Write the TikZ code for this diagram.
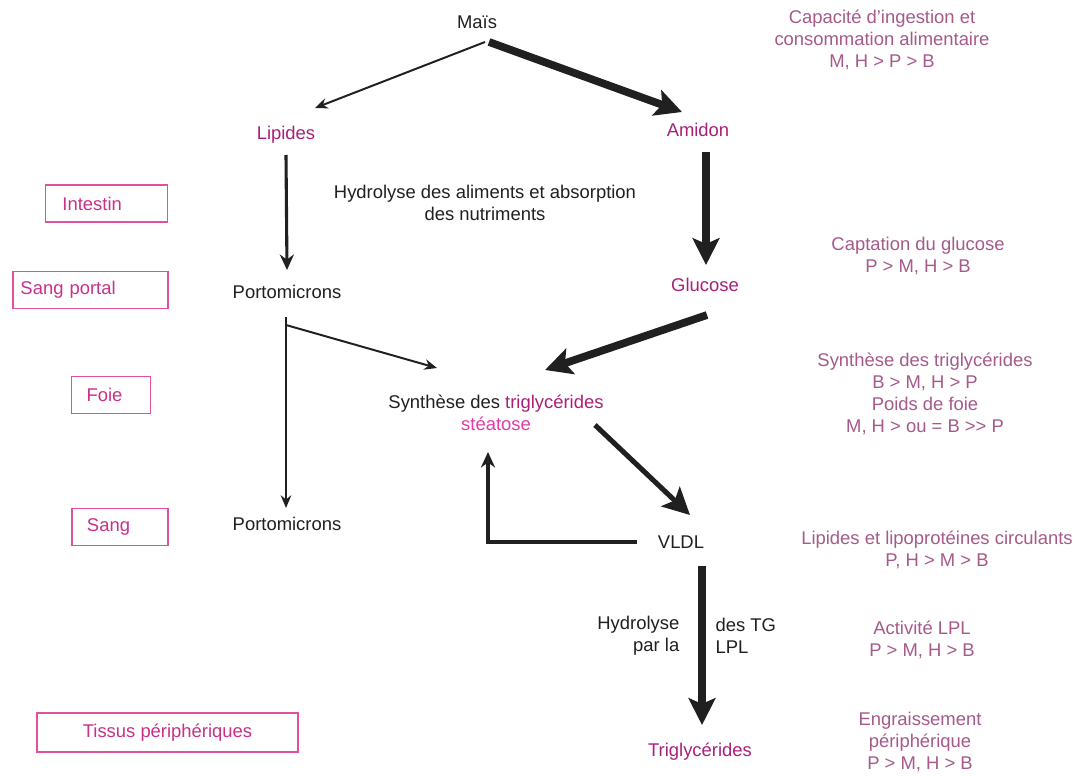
\documentclass[tikz,border=0pt]{standalone}
\usepackage{fontspec}
\setmainfont{Liberation Sans}
\usetikzlibrary{arrows.meta}

\definecolor{encre}{HTML}{202020}
\definecolor{rose}{HTML}{A8207A}
\definecolor{fuchsia}{HTML}{E23AA6}
\definecolor{mauve}{HTML}{A65A8A}
\definecolor{cadre}{HTML}{E0509E}
\definecolor{cadretxt}{HTML}{C8308A}

\tikzset{
  txt/.style={text=encre, inner sep=1pt},
  bio/.style={text=rose, inner sep=1pt},
  note/.style={text=mauve, align=center, inner sep=1pt},
  zone/.style={draw=cadre, line width=1.1pt, text=cadretxt, align=left, minimum height=0.92cm},
  fin/.style={draw=encre, line width=1.4pt, -{Stealth[length=9pt, width=7.5pt]}},
  moyen/.style={draw=encre, line width=2.2pt, -{Stealth[length=11pt, width=10pt]}},
  epais/.style={draw=encre, line width=5.5pt, -{Stealth[length=19pt, width=19pt, inset=4pt]}},
  retour/.style={draw=encre, line width=2.6pt, -{Stealth[length=11pt, width=10pt]}}
}

\begin{document}
\begin{tikzpicture}[x=0.025cm, y=-0.025cm, font=\fontsize{13.1}{15.5}\selectfont]
    \path[use as bounding box, fill=white] (0,0) rectangle (1080,776);
    % Compartiments
    \node[zone, text width=2.2cm, inner xsep=0.42cm] (intestin) at (106.5,203.5) {Intestin};
    \node[zone, text width=3.5cm, inner xsep=0.19cm] (portal) at (90.5,290) {Sang portal};
    \node[zone, text width=1.22cm, inner xsep=0.38cm] (foie) at (111,395) {Foie};
    \node[zone, text width=1.65cm, inner xsep=0.38cm] (sang) at (120,527) {Sang};
    \node[zone, align=center, minimum width=6.53cm, minimum height=0.98cm] (tissus) at (167.5,732.5) {Tissus périphériques};
    % Voies
    \node[txt] (mais) at (477,22) {Maïs};
    \node[bio] (lipides) at (286,135) {Lipides};
    \node[bio] (amidon) at (698,130) {Amidon};
    \node[txt, align=center] (hydro) at (485,203) {Hydrolyse des aliments et absorption\\des nutriments};
    \node[txt] (porto1) at (287,292) {Portomicrons};
    \node[bio] (glucose) at (705,285) {Glucose};
    \node[txt, align=center] (synth) at (496,413) {Synthèse des \textcolor{rose}{triglycérides}\\\textcolor{fuchsia}{stéatose}};
    \node[txt] (porto2) at (287,524) {Portomicrons};
    \node[txt] (vldl) at (681,542) {VLDL};
    \node[bio] (tg) at (700,752) {Triglycérides};
    \node[txt, align=right, anchor=east] (hydtg) at (681,636) {Hydrolyse\\par la};
    \node[txt, align=left, anchor=west] (lpl) at (714,636) {des TG\\LPL};
    % Fleches
    \draw[fin] ([shift={(8,20)}]mais.center) -- ([shift={(29,-27)}]lipides.center);
    \draw[epais] ([shift={(12,20)}]mais.center) -- ([shift={(-16,-18)}]amidon.center);
    \draw[moyen] ([shift={(0,20)}]lipides.center) -- ([shift={(0,-22)}]porto1.center);
    \draw[epais] ([shift={(8,22)}]amidon.center) -- ([shift={(1,-20)}]glucose.center);
    \draw[fin] ([shift={(-1,25)}]porto1.center) -- ([shift={(-1,-16)}]porto2.center);
    \coordinate (embr) at ([shift={(-1,33)}]porto1.center);
    \draw[fin] (embr) -- ([shift={(-59,-45)}]synth.center);
    \draw[epais] ([shift={(2,30)}]glucose.center) -- ([shift={(49,-43)}]synth.center);
    \draw[epais, line width=3.6pt] ([shift={(99,12)}]synth.center) -- ([shift={(9,-27)}]vldl.center);
    \draw[retour] ([shift={(-44,0)}]vldl.center) -| ([shift={(-8,39)}]synth.center);
    \draw[epais, line width=5pt] ([shift={(21,24)}]vldl.center) -- ([shift={(2,-27)}]tg.center);
    % Effets
    \node[note] (n1) at (882,40) {Capacité d'ingestion et\\consommation alimentaire\\M, H > P > B};
    \node[note] (n2) at (918,256) {Captation du glucose\\P > M, H > B};
    \node[note] (n3) at (925,394) {Synthèse des triglycérides\\B > M, H > P\\Poids de foie\\M, H > ou = B >\kern0pt> P};
    \node[note] (n4) at (937,550) {Lipides et lipoprotéines circulants\\P, H > M > B};
    \node[note] (n5) at (922,640) {Activité LPL\\P > M, H > B};
    \node[note] (n6) at (920,742) {Engraissement\\périphérique\\P > M, H > B};
\end{tikzpicture}
\end{document}
